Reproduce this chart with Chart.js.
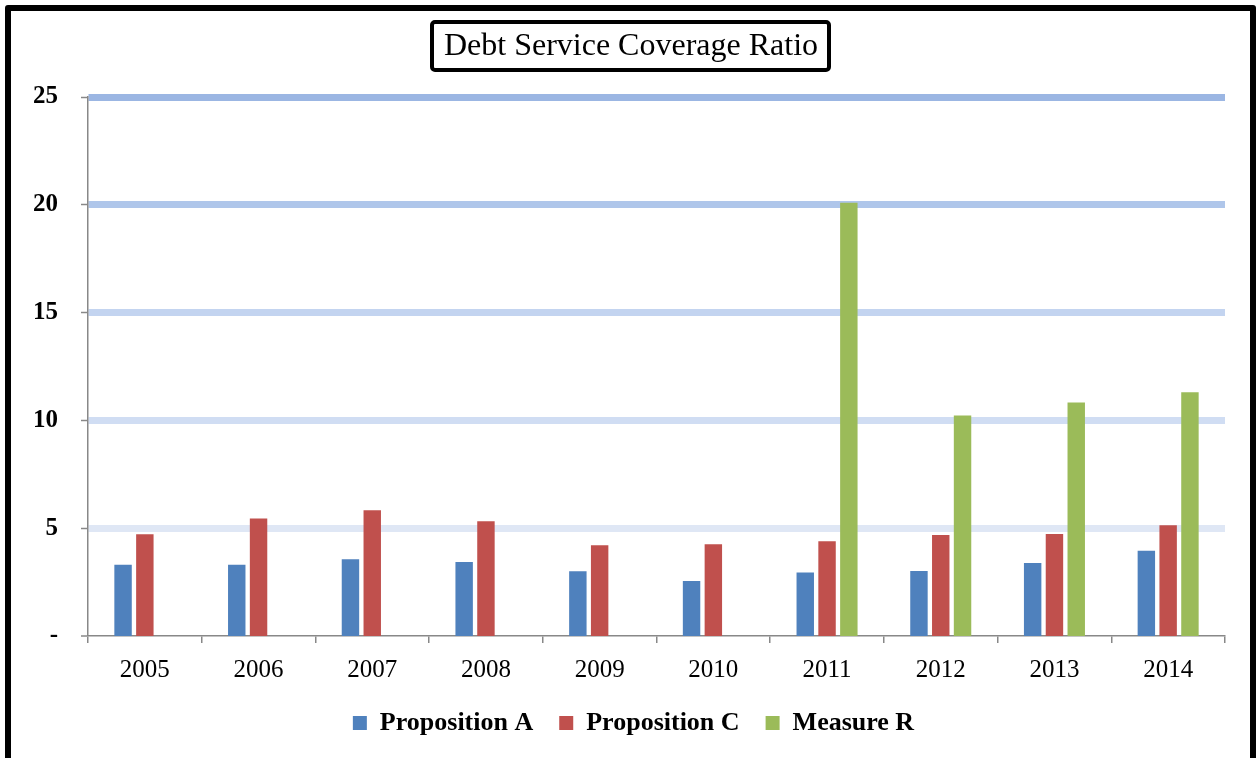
<!DOCTYPE html>
<html>
<head>
<meta charset="utf-8">
<script src="https://cdn.jsdelivr.net/npm/chart.js@4.4.1/dist/chart.umd.min.js"></script>
<style>
  html, body { margin: 0; padding: 0; background: #fff; overflow: hidden; }
  #wrap { position: absolute; left: 0; top: 0; width: 1257px; height: 758px; }
  #frame { position: absolute; left: 5px; top: 5px; width: 1239px; height: 800px; border: 6px solid #000; border-radius: 3px; pointer-events: none; }
</style>
</head>
<body>
<div id="wrap"><canvas id="c" width="1257" height="758"></canvas></div>
<div id="frame"></div>
<script>
const titleText = 'Debt Service Coverage Ratio';
const years = ['2005','2006','2007','2008','2009','2010','2011','2012','2013','2014'];
const propositionA = [3.30, 3.30, 3.56, 3.43, 3.00, 2.55, 2.95, 3.01, 3.39, 3.95];
const propositionC = [4.72, 5.45, 5.83, 5.32, 4.21, 4.26, 4.39, 4.68, 4.73, 5.14];
const measureR = [null, null, null, null, null, null, 20.09, 10.23, 10.83, 11.30];
const seriesNames = ['Proposition A', 'Proposition C', 'Measure R'];
const yTicks = [0, 5, 10, 15, 20, 25];

const gridColors = { 0: 'rgba(0,0,0,0)', 5: '#dfe7f5', 10: '#d0ddf3', 15: '#c3d4f0', 20: '#afc6ea', 25: '#9bb6e3' };

const titleBoxPlugin = {
  id: 'titleBox',
  afterLayout(chart) {
    // center title and legend over the same point as in the reference
    chart.titleBlock.left += 25;
    if (chart.legend) chart.legend.left += 30;
  },
  afterDraw(chart) {
    const ctx = chart.ctx;
    const tb = chart.titleBlock;
    ctx.save();
    ctx.font = chart.options.plugins.title.font.size + 'px "Liberation Serif"';
    const w = ctx.measureText(titleText).width;
    const cx = (tb.left + tb.right) / 2;
    const x0 = Math.round(cx - w / 2 - 12), x1 = Math.round(cx + w / 2 + 11);
    ctx.lineWidth = 4;
    ctx.strokeStyle = '#000';
    ctx.beginPath();
    if (ctx.roundRect) ctx.roundRect(x0, 22, x1 - x0, 48, 3); else ctx.rect(x0, 22, x1 - x0, 48);
    ctx.stroke();
    ctx.restore();
  }
};

new Chart(document.getElementById('c'), {
  type: 'bar',
  data: {
    labels: years,
    datasets: [
      { label: seriesNames[0], data: propositionA, backgroundColor: '#4f81bd' },
      { label: seriesNames[1], data: propositionC, backgroundColor: '#c0504d' },
      { label: seriesNames[2], data: measureR, backgroundColor: '#9bbb59' }
    ]
  },
  options: {
    responsive: false,
    animation: false,
    devicePixelRatio: 1,
    layout: { padding: { left: 12, right: 32, top: 0, bottom: 12 } },
    datasets: { bar: { categoryPercentage: 0.575, barPercentage: 0.8 } },
    plugins: {
      title: {
        display: true, text: titleText, color: '#000',
        font: { family: 'Liberation Serif', size: 32, weight: 'normal', lineHeight: 1.2 },
        padding: { top: 27, bottom: 31.6 }
      },
      legend: {
        position: 'bottom',
        labels: {
          color: '#000', boxWidth: 14, boxHeight: 14, padding: 26,
          font: { family: 'Liberation Serif', size: 26, weight: 'bold' }
        }
      },
      tooltip: { enabled: false }
    },
    scales: {
      x: {
        grid: { display: true, drawOnChartArea: false, offset: true, tickLength: 7, color: '#888', lineWidth: 1.5 },
        border: { display: true, color: '#888', width: 1.5 },
        ticks: { color: '#000', padding: 12, maxRotation: 0, font: { family: 'Liberation Serif', size: 25 } },
        afterFit(scale) { scale.height = 48; }
      },
      y: {
        min: 0, max: 25,
        afterBuildTicks(scale) { scale.ticks = yTicks.map(v => ({ value: v })); },
        grid: {
          color: ctx => gridColors[ctx.tick ? ctx.tick.value : 0] || '#ccd',
          lineWidth: ctx => (ctx.tick && ctx.tick.value === 0) ? 0 : 7,
          tickColor: '#888', tickWidth: 1.5, tickLength: 7
        },
        border: { display: true, color: '#888', width: 1.5 },
        ticks: {
          color: '#000', padding: 23,
          font: { family: 'Liberation Serif', size: 25, weight: 'bold' },
          callback: v => v === 0 ? '-' : String(v)
        },
        afterFit(scale) { scale.width = 76; }
      }
    }
  },
  plugins: [titleBoxPlugin]
});
</script>
</body>
</html>
